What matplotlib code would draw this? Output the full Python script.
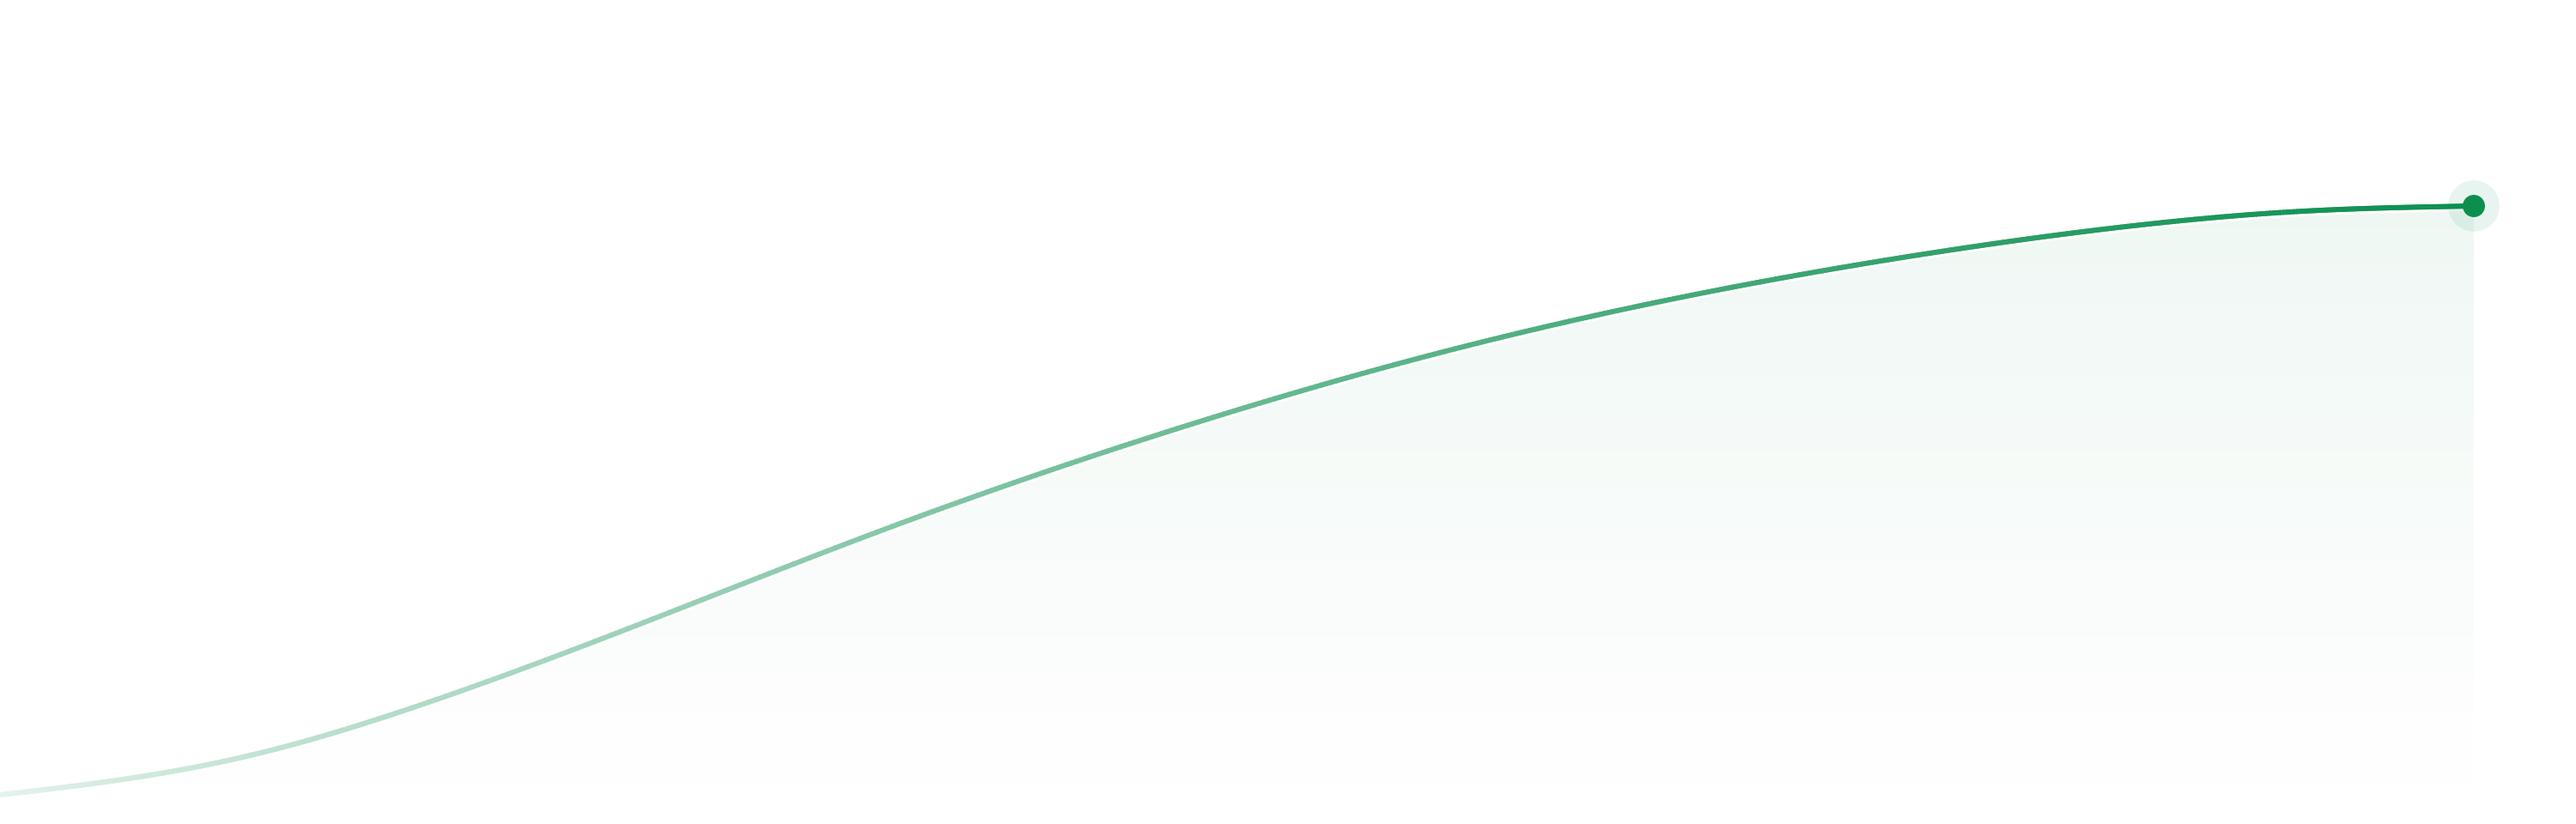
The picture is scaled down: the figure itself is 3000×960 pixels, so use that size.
import numpy as np
import matplotlib
matplotlib.use("Agg")
import matplotlib.pyplot as plt
from matplotlib.collections import LineCollection
from matplotlib.path import Path
from matplotlib.patches import PathPatch
from matplotlib.bezier import BezierSegment

# Values (x position, value with 0 at the bottom edge)
x_vals = [0, 150, 300, 470, 1040, 1347, 1700, 2000, 2267, 2450, 2683, 2881]
y_vals = [34, 53, 82, 132, 347, 453, 555, 622, 668, 693, 714, 720]

BASE = np.array([11, 143, 79]) / 255.0
W, H = 3000, 960

fig = plt.figure(figsize=(30, 9.6), dpi=100)
ax = fig.add_axes([0, 0, 1, 1])
ax.set_xlim(0, W)
ax.set_ylim(0, H)
ax.axis("off")
fig.patch.set_facecolor("white")

x = np.array(x_vals, dtype=float)
y = np.array(y_vals, dtype=float)


def natural_controls(xs, ys):
    """Cubic Bezier control points of a natural (C2) cubic spline through the points."""
    n = len(xs)
    h = np.diff(xs)
    d = np.diff(ys) / h
    A = np.zeros((n, n))
    b = np.zeros(n)
    A[0, 0], A[0, 1], b[0] = 2, 1, 3 * d[0]
    A[-1, -2], A[-1, -1], b[-1] = 1, 2, 3 * d[-1]
    for i in range(1, n - 1):
        A[i, i - 1] = h[i]
        A[i, i] = 2 * (h[i - 1] + h[i])
        A[i, i + 1] = h[i - 1]
        b[i] = 3 * (h[i] * d[i - 1] + h[i - 1] * d[i])
    m = np.linalg.solve(A, b)
    pieces = []
    for i in range(n - 1):
        dx = h[i] / 3
        pieces.append(np.array([(xs[i], ys[i]),
                                (xs[i] + dx, ys[i] + m[i] * dx),
                                (xs[i + 1] - dx, ys[i + 1] - m[i + 1] * dx),
                                (xs[i + 1], ys[i + 1])]))
    return pieces


pieces = natural_controls(x, y)
verts = [tuple(pieces[0][0])]
codes = [Path.MOVETO]
for p in pieces:
    verts += [tuple(v) for v in p[1:]]
    codes += [Path.CURVE4] * 3
curve = Path(verts, codes)

# Area fill with vertical gradient, clipped to the area under the curve
area = Path(verts + [(x[-1], 0), (x[0], 0), (x[0], y[0])],
            codes + [Path.LINETO, Path.LINETO, Path.CLOSEPOLY])
clip = PathPatch(area, facecolor="none", edgecolor="none")
ax.add_patch(clip)
rows = np.linspace(0, 1, 256)[:, None]
alpha_top = 0.065
img = np.ones((256, 2, 4))
img[..., :3] = BASE
img[..., 3] = (rows * alpha_top / (y.max() / H)).clip(0, 1) * np.ones((1, 2))
im = ax.imshow(img, extent=[0, W, 0, H], origin="lower", aspect="auto",
               interpolation="bilinear", zorder=1)
im.set_clip_path(clip)

# White under-stroke separating line and fill
ax.add_patch(PathPatch(curve, facecolor="none", edgecolor="white", lw=8.6,
                       capstyle="round", joinstyle="round", zorder=2))

# Gradient line: evaluate each Bezier piece with matplotlib, colour along x
t = np.linspace(0, 1, 60)
pts = np.vstack([BezierSegment(p).point_at_t(t)[:-1] for p in pieces]
                + [pieces[-1][-1][None, :]])
segs = np.stack([pts[:-1], pts[1:]], axis=1)
mid = (pts[:-1, 0] + pts[1:, 0]) / 2 / x[-1]
a = 0.1 + 0.9 * np.clip(mid, 0, 1) ** 0.8
cols = (1 - a)[:, None] * 1.0 + a[:, None] * BASE
lc = LineCollection(segs, colors=cols, linewidths=4.32, capstyle="round",
                    joinstyle="round", zorder=3)
ax.add_collection(lc)

# End marker: soft halo and solid dot
ax.scatter([x[-1]], [y[-1]], s=43 ** 2, color=BASE, alpha=0.09,
           edgecolors="none", zorder=4)
ax.scatter([x[-1]], [y[-1]], s=18.7 ** 2, color=BASE, edgecolors="none",
           zorder=5)

fig.savefig("out.png", dpi=100, facecolor="white")
